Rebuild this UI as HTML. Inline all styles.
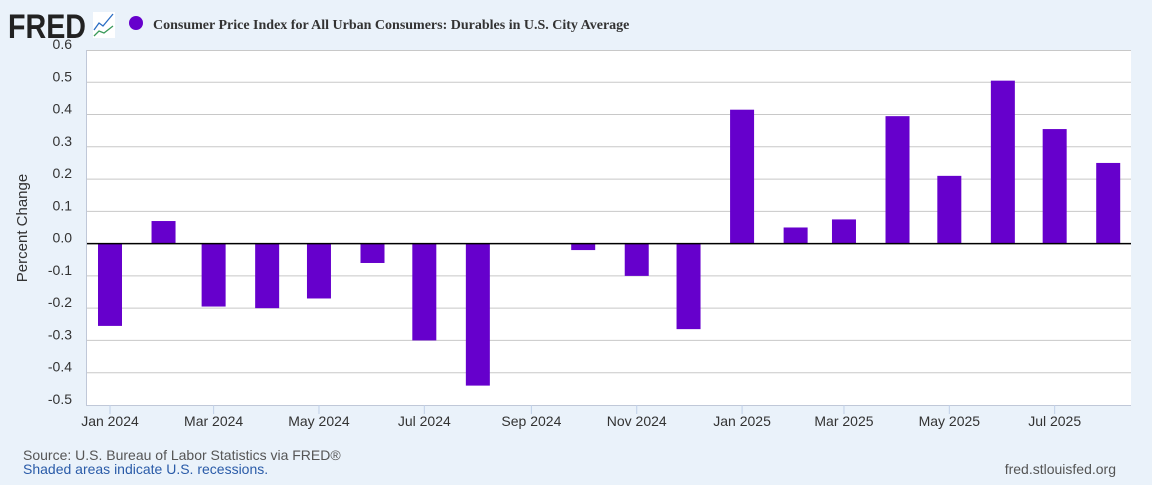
<!DOCTYPE html>
<html><head><meta charset="utf-8"><style>
body{margin:0;background:#eaf2fa;width:1152px;height:480px;overflow:hidden;font-family:"Liberation Sans",sans-serif}
</style></head><body>
<svg width="1152" height="480">
<rect width="1152" height="480" fill="#eaf2fa"/>
<text x="8" y="38" font-size="34" font-weight="bold" font-family="Liberation Sans" fill="#222" textLength="78" lengthAdjust="spacingAndGlyphs">FRED</text>
<g><rect x="93" y="12" width="22" height="26" fill="#fff"/><polyline points="94,30 99,23 103,26 113,14" fill="none" stroke="#2a6dc4" stroke-width="1.3"/><polyline points="94,36 99,31 104,33 113,26" fill="none" stroke="#3a9a5a" stroke-width="1.3"/></g>
<circle cx="136" cy="23" r="7" fill="#6600cc"/>
<text x="153" y="29" font-size="14" font-weight="bold" font-family="Liberation Serif" fill="#333">Consumer Price Index for All Urban Consumers: Durables in U.S. City Average</text>
<rect x="86" y="50" width="1045" height="355" fill="#fff"/>
<g id="grid"></g><g id="bars"></g><g id="xaxis"></g>
<text transform="translate(27,228) rotate(-90)" text-anchor="middle" font-size="15" fill="#333">Percent Change</text>
<text x="23" y="460" font-size="14" fill="#555">Source: U.S. Bureau of Labor Statistics via FRED®</text>
<text x="23" y="474" font-size="14" fill="#2a5ba8">Shaded areas indicate U.S. recessions.</text>
<text x="1116" y="474" text-anchor="end" font-size="14" fill="#555">fred.stlouisfed.org</text>
</svg>
<script>
const months=["2024-01","2024-02","2024-03","2024-04","2024-05","2024-06","2024-07","2024-08","2024-09","2024-10","2024-11","2024-12","2025-01","2025-02","2025-03","2025-04","2025-05","2025-06","2025-07","2025-08"];
const values=[-0.255,0.07,-0.195,-0.2,-0.17,-0.06,-0.3,-0.44,0,-0.02,-0.1,-0.265,0.415,0.05,0.075,0.395,0.21,0.505,0.355,0.25];
const yTicks=[0.6,0.5,0.4,0.3,0.2,0.1,0.0,-0.1,-0.2,-0.3,-0.4,-0.5];
const xTickLabels=["Jan 2024","Mar 2024","May 2024","Jul 2024","Sep 2024","Nov 2024","Jan 2025","Mar 2025","May 2025","Jul 2025"];
const xTickDates=["2024-01","2024-03","2024-05","2024-07","2024-09","2024-11","2025-01","2025-03","2025-05","2025-07"];
(function(){
const NS="http://www.w3.org/2000/svg";
const t0=Date.UTC(2024,0,1);
function x(m){const p=m.split("-").map(Number);return 110+(Date.UTC(p[0],p[1]-1,1)-t0)/864e5*1.727;}
function y(v){return 50+(0.6-v)*322.7;}
function mk(tag,attrs,parent){const e=document.createElementNS(NS,tag);for(const k in attrs)e.setAttribute(k,attrs[k]);document.getElementById(parent).appendChild(e);return e;}
yTicks.forEach(v=>{
  if(v>-0.45&&v<0.55){const l=mk("line",{x1:86,x2:1131,y1:y(v),y2:y(v),stroke:"#c8c8c8","stroke-width":1},"grid");
  
  }
  const t=mk("text",{x:72,y:y(v)-1,"text-anchor":"end","font-size":14,fill:"#333"},"grid");t.textContent=v.toFixed(1);
  
  
});
const topLine=mk("line",{x1:86,x2:1131,y1:50.5,y2:50.5,stroke:"#c8c8c8"},"grid");


values.forEach((v,i)=>{
  const cx=x(months[i]);const y0=y(0),y1=y(v);
  const r=mk("rect",{x:cx-12,y:Math.min(y0,y1),width:24,height:Math.abs(y1-y0),fill:"#6600cc"},"bars");
  
  
});
const zl=mk("line",{x1:86,x2:1131,y1:y(0),y2:y(0),stroke:"#000","stroke-width":1.5},"xaxis");


const ax=mk("line",{x1:86,x2:1131,y1:405.5,y2:405.5,stroke:"#c0c8d8"},"xaxis");


const ayl=mk("line",{x1:86.5,x2:86.5,y1:50,y2:406,stroke:"#c0c8d8"},"xaxis");


xTickDates.forEach((d,i)=>{
  const tx=x(d);
  const tk=mk("line",{x1:tx,x2:tx,y1:405,y2:414,stroke:"#c0d0e8"},"xaxis");
  
  
  const t=mk("text",{x:tx,y:426,"text-anchor":"middle","font-size":14,fill:"#333"},"xaxis");t.textContent=xTickLabels[i];
  
  
});
})();
</script>
</body></html>
